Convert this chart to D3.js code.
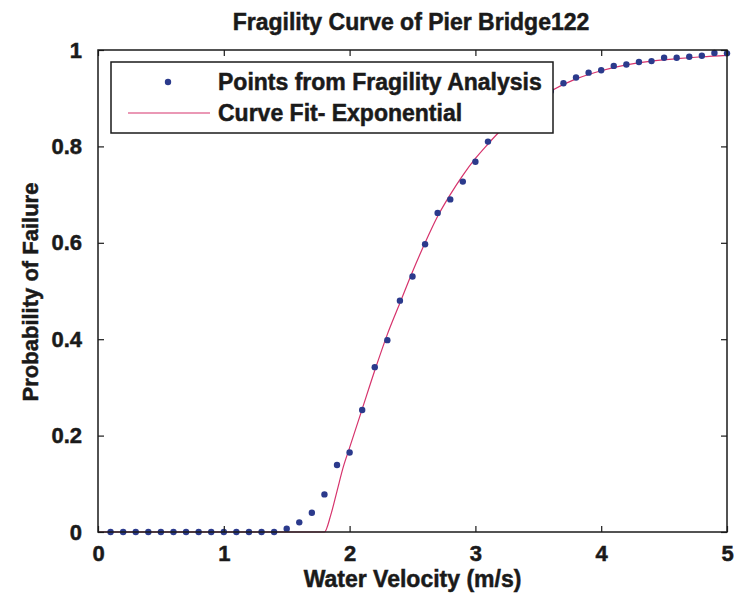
<!DOCTYPE html>
<html>
<head>
<meta charset="utf-8">
<script src="https://cdn.jsdelivr.net/npm/d3@7"></script>
<style>
  body { margin: 0; background: #fff; }
  svg text { font-family: "Liberation Sans", Arial, sans-serif; font-weight: bold; fill: #1a1a1a;
             stroke: #1a1a1a; stroke-width: 0.5; }
</style>
</head>
<body>
<svg width="735" height="601"></svg>
<script>
// fragility analysis points
var pointX = [0.1, 0.2, 0.3, 0.4, 0.5, 0.6, 0.7, 0.8, 0.9, 1.0,
              1.1, 1.2, 1.3, 1.4, 1.5, 1.6, 1.7, 1.8, 1.9, 2.0,
              2.1, 2.2, 2.3, 2.4, 2.5, 2.6, 2.7, 2.8, 2.9, 3.0,
              3.1, 3.2, 3.3, 3.4, 3.5, 3.6, 3.7, 3.8, 3.9, 4.0,
              4.1, 4.2, 4.3, 4.4, 4.5, 4.6, 4.7, 4.8, 4.9, 5.0];
var pointY = [0, 0, 0, 0, 0, 0, 0, 0, 0, 0,
              0, 0, 0, 0, 0.007, 0.02, 0.04, 0.078, 0.139, 0.165,
              0.253, 0.342, 0.398, 0.48, 0.53, 0.597, 0.662, 0.69, 0.727, 0.768,
              0.81, 0.84, 0.86, 0.88, 0.9, 0.915, 0.931, 0.943, 0.953, 0.958,
              0.967, 0.97, 0.975, 0.977, 0.984, 0.984, 0.986, 0.988, 0.994, 0.993];

// exponential fit curve
var curveX = [0, 1.8, 1.85, 1.9, 1.95, 2.0, 2.1, 2.2, 2.3, 2.4, 2.5, 2.6, 2.7, 2.8, 2.9,
              3.0, 3.1, 3.2, 3.4, 3.6, 3.8, 4.0, 4.2, 4.4, 4.6, 4.8, 5.0];
var curveY = [0, 0, 0.035, 0.085, 0.135, 0.175, 0.255, 0.335, 0.41, 0.475, 0.54, 0.6, 0.655, 0.7, 0.74,
              0.775, 0.805, 0.833, 0.88, 0.915, 0.94, 0.957, 0.969, 0.977, 0.982, 0.986, 0.989];

var xTicks = [0, 1, 2, 3, 4, 5];
var yTicks = [0, 0.2, 0.4, 0.6, 0.8, 1];
var legendLabels = ["Points from Fragility Analysis", "Curve Fit- Exponential"];

var svg = d3.select("svg");
var padL = 98, padR = 727, padT = 50, padB = 532;

var x = d3.scaleLinear().domain([0, 5]).range([padL, padR]);
var y = d3.scaleLinear().domain([0, 1]).range([padB, padT]);

var dotColor = "#2b3a8c", lineColor = "#d6336c";

//	curve
var line = d3.line()
        .x(function (d) { return x(d[0]); })
        .y(function (d) { return y(d[1]); })
        .curve(d3.curveMonotoneX);
svg.append("path")
        .datum(curveX.map(function (v, i) { return [v, curveY[i]]; }))
        .attr("d", line)
        .attr("fill", "none")
        .attr("stroke", lineColor)
        .attr("stroke-width", 1.2);

//	points
svg.append("g").selectAll("circle")
        .data(pointX.map(function (v, i) { return [v, pointY[i]]; }))
        .enter().append("circle")
        .attr("cx", function (d) { return x(d[0]); })
        .attr("cy", function (d) { return y(d[1]); })
        .attr("r", 3.2)
        .attr("fill", dotColor);

//	axes (ticks inside, mirrored on top and right)
function styleAxis(g) {
    g.selectAll(".domain").remove();
    g.selectAll(".tick line").attr("stroke", "#1a1a1a").attr("stroke-width", 1.2);
    g.selectAll("text").attr("font-size", 22).attr("fill", "#1a1a1a");
}
svg.append("g").attr("transform", "translate(0," + padB + ")")
        .call(d3.axisBottom(x).tickValues(xTicks).tickFormat(d3.format("d")).tickSizeInner(-6).tickPadding(13))
        .call(styleAxis);
svg.append("g").attr("transform", "translate(0," + padT + ")")
        .call(d3.axisTop(x).tickValues(xTicks).tickSizeInner(-6).tickFormat(""))
        .call(styleAxis);
svg.append("g").attr("transform", "translate(" + padL + ",0)")
        .call(d3.axisLeft(y).tickValues(yTicks).tickFormat(function (d) { return d === 0 || d === 1 ? d : d.toFixed(1); }).tickSizeInner(-6).tickPadding(16))
        .call(styleAxis);
svg.append("g").attr("transform", "translate(" + padR + ",0)")
        .call(d3.axisRight(y).tickValues(yTicks).tickSizeInner(-6).tickFormat(""))
        .call(styleAxis);

svg.append("rect")
        .attr("x", padL).attr("y", padT)
        .attr("width", padR - padL).attr("height", padB - padT)
        .attr("fill", "none").attr("stroke", "#1a1a1a").attr("stroke-width", 1.5);

//	legend
var lg = svg.append("g").attr("transform", "translate(111,62)");
lg.append("rect").attr("width", 442).attr("height", 71)
        .attr("fill", "#fff").attr("stroke", "#1a1a1a").attr("stroke-width", 1.5);
lg.append("circle").attr("cx", 57).attr("cy", 20).attr("r", 3.2).attr("fill", dotColor);
lg.append("line").attr("x1", 17).attr("x2", 99).attr("y1", 51).attr("y2", 51)
        .attr("stroke", lineColor).attr("stroke-width", 1.2);
lg.selectAll("text.lab").data(legendLabels).enter().append("text")
        .attr("class", "lab")
        .attr("x", 107)
        .attr("y", function (d, i) { return 20 + i * 31; })
        .attr("dy", "0.35em")
        .attr("font-size", 23)
        .text(function (d) { return d; });

//	titles
svg.append("text").attr("x", 411).attr("y", 30)
        .attr("text-anchor", "middle").attr("font-size", 23)
        .text("Fragility Curve of Pier Bridge122");
svg.append("text").attr("x", (padL + padR) / 2).attr("y", 587)
        .attr("text-anchor", "middle").attr("font-size", 23)
        .text("Water Velocity (m/s)");
svg.append("text")
        .attr("transform", "translate(38," + 292 + ") rotate(-90)")
        .attr("text-anchor", "middle").attr("font-size", 22)
        .text("Probability of Failure");
</script>
</body>
</html>
